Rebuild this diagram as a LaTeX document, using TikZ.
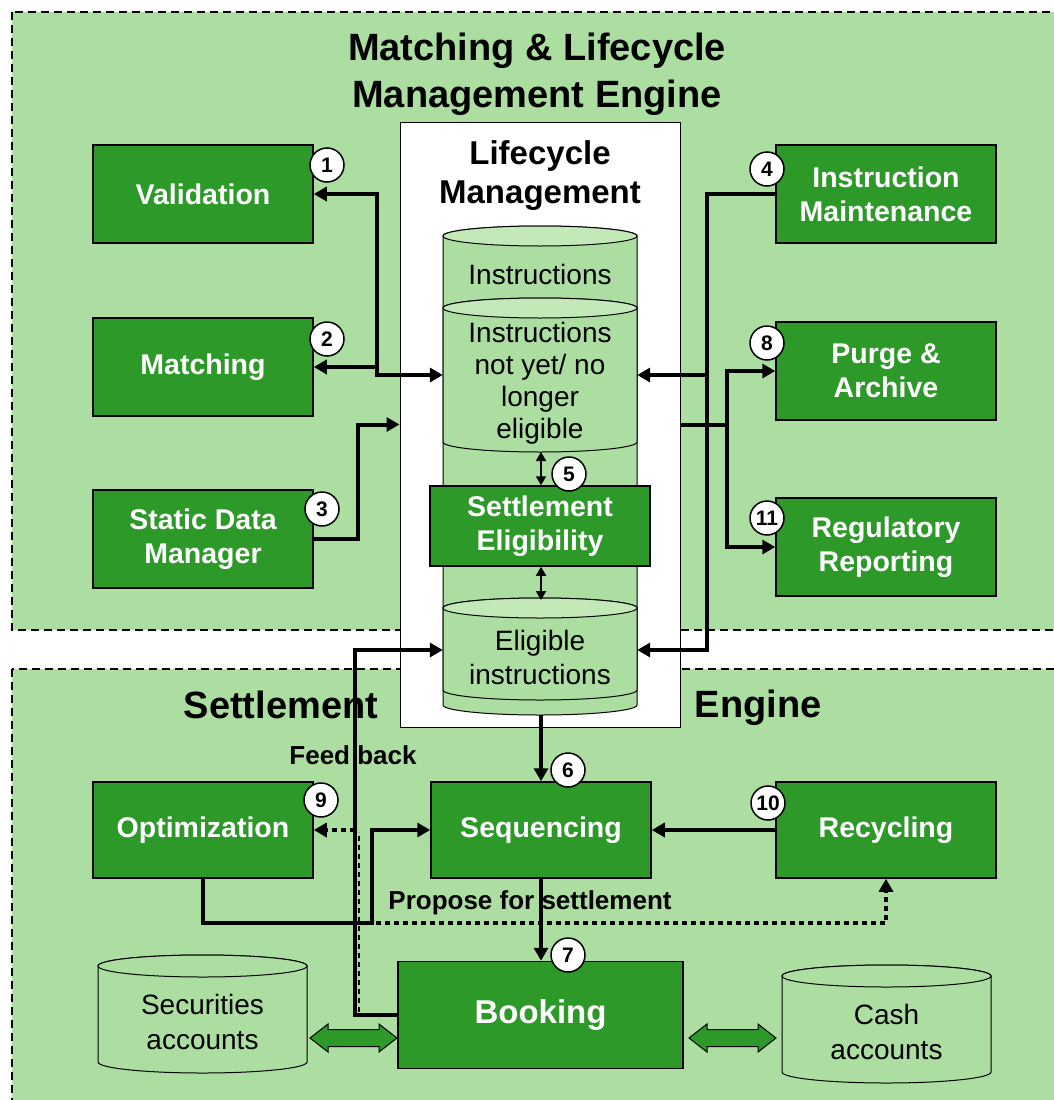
\documentclass[tikz,border=0pt]{standalone}
\usepackage{fontspec}
\setmainfont{Liberation Sans}
\usetikzlibrary{arrows.meta}

\definecolor{bggreen}{RGB}{171,222,160}
\definecolor{boxgreen}{RGB}{44,153,41}
\definecolor{drumtop}{RGB}{196,233,185}

% drum: [top fill]{centre x}{half width}{top y}{bottom y}{y radius}
\newcommand{\drum}[6][drumtop]{%
  \path[draw,line width=1pt,fill=bggreen] ({#2-#3},#4) -- ({#2-#3},#5)
    arc[start angle=180,end angle=360,x radius=#3pt,y radius=#6pt]
    -- ({#2+#3},#4)
    arc[start angle=0,end angle=180,x radius=#3pt,y radius=#6pt] -- cycle;
  \path[draw,line width=1pt,fill=#1] (#2,#4) ellipse[x radius=#3pt,y radius=#6pt];
}

% green two-way block arrow starting at a named coordinate
\newcommand{\twinblock}[1]{%
  \path[blockarrow] (#1) -- ++(18,-14) -- ++(0,5.5) -- ++(51,0) -- ++(0,-5.5)
    -- ++(18,14) -- ++(-18,14) -- ++(0,-5.5) -- ++(-51,0) -- ++(0,5.5) -- cycle;
}

\begin{document}
\begin{tikzpicture}[x=1pt,y=-1pt,
    >={Triangle[length=13pt,width=14pt]},
    region/.style={draw,fill=bggreen,line width=1.5pt,dash pattern=on 8pt off 5pt},
    box/.style={draw,fill=boxgreen,text=white,line width=1.5pt,align=center,
                minimum width=220pt,minimum height=98pt,inner sep=0pt,
                font=\bfseries\fontsize{28.5}{34}\selectfont},
    drumtext/.style={align=center,minimum width=194pt,inner sep=0pt,
                font=\fontsize{28}{32}\selectfont},
    num/.style={circle,draw,fill=white,line width=1.5pt,minimum size=34pt,
                inner sep=0pt,font=\bfseries\fontsize{21}{21}\selectfont},
    link/.style={line width=4pt},
    dotlink/.style={line width=4pt,dash pattern=on 5pt off 4pt},
    twin/.style={line width=2pt,
                {Triangle[length=9pt,width=10pt]}-{Triangle[length=9pt,width=10pt]}},
    blockarrow/.style={draw,fill=boxgreen,line width=1pt,line join=miter},
    label/.style={font=\bfseries\fontsize{26}{30}\selectfont}]

  \useasboundingbox (0,0) rectangle (1054,1100);
  \clip (0,0) rectangle (1054,1100);

  % the two engines
  \path[region] (12,12) rectangle (1070,630);
  \path[region] (12,669) rectangle (1070,1120);
  \node[font=\bfseries\fontsize{38}{47}\selectfont,align=center] (title) at (537,74)
    {Matching \& Lifecycle\\Management Engine};
  \node[font=\bfseries\fontsize{38}{44}\selectfont] (setlabel) at (281,705) {Settlement};
  \node[font=\bfseries\fontsize{38}{44}\selectfont] (englabel) at (758,708) {Engine};

  % lifecycle management
  \node[draw,fill=white,line width=1pt,minimum width=280pt,minimum height=605pt,
        inner sep=0pt] (lcm) at (540,424.5) {};
  \node[font=\bfseries\fontsize{33}{39}\selectfont,align=center] (lcmtitle) at (540,176)
    {Lifecycle\\Management};

  \drum{540}{97}{236}{705}{10}
  \drum{540}{97}{308}{442}{10}
  \drum{540}{97}{608}{690}{10}
  \drum[bggreen]{202.5}{104.5}{966}{1062}{11}
  \drum[bggreen]{886.5}{104.5}{976}{1072}{11}

  \coordinate (notelibot) at (541,452);
  \coordinate (elitop) at (541,600);
  \coordinate (stackbot) at (541,715);

  \node[drumtext] (instr) at (540,274) {Instructions};
  \node[drumtext] (noteli) at (540,383) {Instructions\\not yet/ no\\longer\\eligible};
  \node[drumtext,font=\fontsize{28}{34}\selectfont] (eli) at (540,657) {Eligible\\instructions};
  \node[drumtext,minimum width=209pt,font=\fontsize{28}{35}\selectfont] (secacc) at (202.5,1022)
    {Securities\\accounts};
  \node[drumtext,minimum width=209pt,font=\fontsize{28}{35}\selectfont] (cashacc) at (886.5,1032)
    {Cash\\accounts};

  \node[box,minimum height=80pt] (seteli) at (540,526) {Settlement\\Eligibility};

  % matching side
  \node[box] (valid) at (203,194) {Validation};
  \node[box] (match) at (203,367) {Matching};
  \node[box] (static) at (203,539) {Static Data\\Manager};
  \node[box] (imaint) at (886,194) {Instruction\\Maintenance};
  \node[box] (purge) at (886,371) {Purge \&\\Archive};
  \node[box] (regrep) at (886,547) {Regulatory\\Reporting};

  % settlement side
  \node[box,minimum height=96pt] (optim) at (203,830) {Optimization};
  \node[box,minimum height=96pt] (seq) at (541,830) {Sequencing};
  \node[box,minimum height=96pt] (recyc) at (886,830) {Recycling};
  \node[box,minimum width=285pt,minimum height=107pt,
        font=\bfseries\fontsize{33}{40}\selectfont] (booking) at (540.5,1015) {Booking};

  \coordinate (secarr) at (310,1038);
  \coordinate (casharr) at (689,1038);
  \twinblock{secarr}
  \twinblock{casharr}

  \node[label] (feedlabel) at (353,755) {Feed back};
  \node[label] (proplabel) at (530,903) {Propose for settlement};

  % connectors
  \draw[link,<->] (valid.east) -| (377,375) -- (noteli.west |- 0,375);
  \draw[link,->] (377,367) -- (match.east);
  \draw[link,->] (static.east) -| (358,424.5) -- (lcm.west);
  \draw[link,->] (imaint.west) -| (707,650) -- (eli.east |- 0,650);
  \draw[link,->] (707,375) -- (noteli.east |- 0,375);
  \draw[link,->] (lcm.east) -| (727,371) -- (purge.west);
  \draw[link,->] (727,424.5) |- (regrep.west);
  \draw[twin] (notelibot) -- (seteli.north -| notelibot);
  \draw[twin] (seteli.south -| elitop) -- (elitop);

  \draw[link,->] (stackbot) -- (seq.north);
  \draw[link,->] (seq.south) -- (seq.south |- booking.north);
  \draw[link,->] (recyc.west) -- (seq.east);
  \draw[link,->] (optim.south) |- (372,923) |- (seq.west);
  \draw[dotlink,->] (376,923) -| (recyc.south);
  \draw[dotlink,line width=1.5pt] (359,1012) -- (359,832);
  \draw[link,->] (booking.west) -| (355,650) -- (eli.west |- 0,650);
  \draw[dotlink,->] (355,830) -- (optim.east);

  % step numbers
  \node[num] (n1) at (327,165) {1};
  \node[num] (n2) at (327,339) {2};
  \node[num] (n3) at (322,509) {3};
  \node[num] (n4) at (767,169) {4};
  \node[num] (n5) at (569,474) {5};
  \node[num] (n6) at (568,770) {6};
  \node[num] (n7) at (568,955) {7};
  \node[num] (n8) at (767,343) {8};
  \node[num] (n9) at (321,800) {9};
  \node[num] (n10) at (768,803) {10};
  \node[num] (n11) at (767,518) {11};
\end{tikzpicture}
\end{document}
